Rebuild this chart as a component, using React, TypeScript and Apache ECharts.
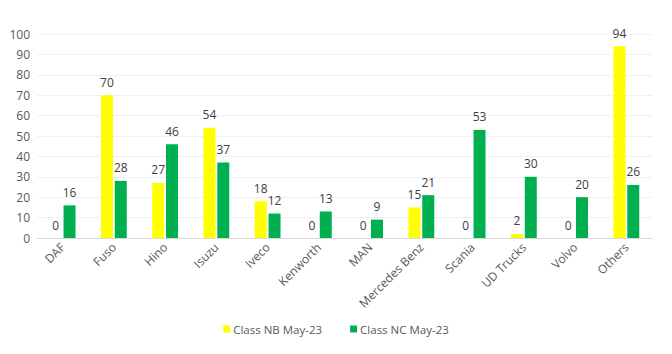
import React, { useEffect, useRef } from "react";
import * as echarts from "echarts";

const categories = ["DAF", "Fuso", "Hino", "Isuzu", "Iveco", "Kenworth", "MAN", "Mercedes Benz", "Scania", "UD Trucks", "Volvo", "Others"];
const classNB = [0, 70, 27, 54, 18, 0, 0, 15, 0, 2, 0, 94];
const classNC = [16, 28, 46, 37, 12, 13, 9, 21, 53, 30, 20, 26];
const seriesNames = ["Class NB May-23", "Class NC May-23"];

const FONT = "'Open Sans', 'Liberation Sans', sans-serif";

export default function App() {
  const ref = useRef<HTMLDivElement>(null);
  useEffect(() => {
    if (!ref.current) return;
    const chart = echarts.init(ref.current, undefined, { renderer: "svg" });
    const label = {
      show: true,
      position: "top" as const,
      distance: 7,
      color: "#404040",
      fontSize: 12,
      fontFamily: FONT,
    };
    chart.setOption({
      animation: false,
      backgroundColor: "#ffffff",
      textStyle: { fontFamily: FONT },
      grid: { left: 37, right: 20, top: 34, bottom: 116, containLabel: false },
      legend: {
        bottom: 14,
        left: "center",
        itemWidth: 7,
        itemHeight: 7,
        itemGap: 28,
        icon: "rect",
        textStyle: { color: "#595959", fontSize: 11.5, fontFamily: FONT, padding: [0, 0, 0, -2] },
        data: seriesNames,
      },
      xAxis: {
        type: "category",
        data: categories,
        axisLine: { show: true, lineStyle: { color: "#d9d9d9" } },
        axisTick: { show: false },
        axisLabel: { rotate: 45, color: "#595959", fontSize: 12, fontFamily: FONT, margin: 7, interval: 0 },
      },
      yAxis: {
        type: "value",
        min: 0,
        max: 100,
        interval: 10,
        axisLine: { show: false },
        axisTick: { show: false },
        axisLabel: { color: "#595959", fontSize: 12, fontFamily: FONT, margin: 7 },
        splitLine: { show: true, lineStyle: { color: "#f0f0f0" } },
      },
      series: [
        {
          name: seriesNames[0],
          type: "bar",
          data: classNB,
          barWidth: 12,
          barGap: "15%",
          itemStyle: { color: "#ffff00" },
          label,
        },
        {
          name: seriesNames[1],
          type: "bar",
          data: classNC,
          barWidth: 12,
          itemStyle: { color: "#00b050" },
          label,
        },
      ],
    });
    return () => chart.dispose();
  }, []);
  return <div ref={ref} style={{ position: "fixed", left: 0, top: 0, width: 672, height: 354 }} />;
}
